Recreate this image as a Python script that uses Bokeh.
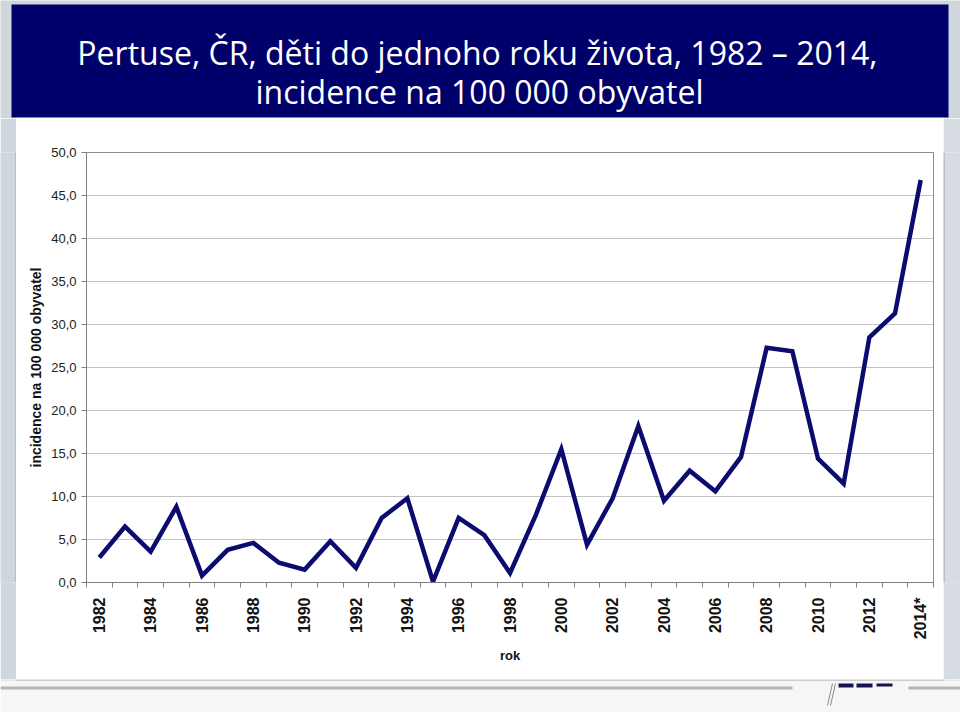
import math
from bokeh.plotting import figure
from bokeh.models import FixedTicker, ColumnDataSource, Range1d
from bokeh.layouts import column, row
from bokeh.core.properties import value
from bokeh.embed import file_html
from bokeh.resources import INLINE

# ---- data ----
years = list(range(1982, 2015))
year_labels = [str(y) for y in years[:-1]] + ["2014*"]
incidence = [2.9, 6.5, 3.6, 8.8, 0.8, 3.8, 4.6, 2.3, 1.5, 4.8,
             1.7, 7.5, 9.8, 0.1, 7.5, 5.5, 1.1, 7.8, 15.5, 4.4,
             9.8, 18.2, 9.5, 13.0, 10.6, 14.6, 27.3, 26.9, 14.4, 11.5,
             28.5, 31.3, 46.8]
y_ticks = [0, 5, 10, 15, 20, 25, 30, 35, 40, 45, 50]
title_line1 = "Pertuse, ČR, děti do jednoho roku života, 1982 – 2014,"
title_line2 = "incidence na 100 000 obyvatel"
y_title = "incidence na 100 000 obyvatel"
x_title = "rok"

SLIDE = "#cfd6dc"
NAVY = "#00006a"
BORDER = "#a4a4a4"
W = 960
BANNER_H = 118
CHART_H = 561
BOTTOM_H = 33
LEFT_W = 16
RIGHT_W = 17


def deco_fig(w, h, bg):
    f = figure(width=w, height=h, output_backend="svg", toolbar_location=None,
               x_range=Range1d(0, w), y_range=Range1d(h, 0),
               x_axis_type=None, y_axis_type=None, min_border=0)
    f.background_fill_color = bg
    f.border_fill_color = bg
    f.outline_line_color = None
    return f


# ---- banner with title ----
banner = deco_fig(W, BANNER_H, SLIDE)
banner.quad(left=[11], right=[948], top=[4], bottom=[117], fill_color=NAVY, line_color=None)
banner.quad(left=[16], right=[944], top=[117], bottom=[118], fill_color=BORDER, line_color=None)
banner.text(x=[477, 479], y=[52, 91], text=[title_line1, title_line2],
            text_align="center", text_baseline="alphabetic", text_color="white",
            text_font=value("Open Sans"), text_font_size="32px")

# ---- side strips ----
left = deco_fig(LEFT_W, CHART_H, SLIDE)
left.quad(left=[LEFT_W - 1], right=[LEFT_W], top=[0], bottom=[CHART_H], fill_color=BORDER, line_color=None)
right = deco_fig(RIGHT_W, CHART_H, "#d6dce2")
right.quad(left=[0], right=[1], top=[0], bottom=[CHART_H], fill_color=BORDER, line_color=None)

# ---- bottom strip ----
bottom = deco_fig(W, BOTTOM_H, "#f6f6f6")
bottom.quad(left=[0, 944], right=[16, W], top=[0, 0], bottom=[1, 1], fill_color=SLIDE, line_color=None)
bottom.quad(left=[16], right=[944], top=[0], bottom=[1], fill_color=BORDER, line_color=None)
bottom.quad(left=[0, 908], right=[792, W], top=[7, 7], bottom=[10, 10], fill_color="#b4b4bc", line_color=None)
bottom.quad(left=[838, 856, 876], right=[853, 872, 892], top=[4, 4, 4], bottom=[8, 8, 7],
            fill_color="#141450", line_color=None)
bottom.segment(x0=[832, 835], y0=[4, 4], x1=[827, 830], y1=[26, 26], line_color="#8a8a8a", line_width=1)

# ---- chart ----
idx = list(range(len(years)))
src = ColumnDataSource(dict(x=idx, y=incidence))
CW = W - LEFT_W - RIGHT_W
p = figure(width=CW, height=CHART_H, output_backend="svg", toolbar_location=None,
           x_range=Range1d(-0.5, len(years) - 0.5), y_range=Range1d(0, 50),
           min_border_left=70, min_border_right=10, min_border_top=34,
           min_border_bottom=97)
p.border_fill_color = "white"
p.background_fill_color = "white"
p.outline_line_color = "#8c8c8c"
p.outline_line_width = 1

p.line("x", "y", source=src, line_color="#0b0b70", line_width=4.5, line_join="miter")

p.yaxis.ticker = FixedTicker(ticks=y_ticks)
p.yaxis.major_label_overrides = {t: f"{t:.1f}".replace(".", ",") for t in y_ticks}
p.yaxis.major_label_text_font = "Liberation Sans"
p.yaxis.major_label_text_font_size = "13px"
p.yaxis.major_label_text_color = "#222222"
p.yaxis.major_tick_out = 5
p.yaxis.major_tick_in = 0
p.yaxis.minor_tick_line_color = None
p.yaxis.axis_line_color = "#808080"
p.yaxis.major_tick_line_color = "#808080"
p.yaxis.major_label_standoff = 5
p.yaxis.axis_label = y_title
p.yaxis.axis_label_text_font = "Liberation Sans"
p.yaxis.axis_label_text_font_style = "bold"
p.yaxis.axis_label_text_font_size = "14px"
p.yaxis.axis_label_text_color = "#111111"
p.yaxis.axis_label_standoff = 4

even_idx = [i for i in idx if i % 2 == 0]
bounds = [i - 0.5 for i in idx] + [len(years) - 0.5]
p.xaxis.ticker = FixedTicker(ticks=even_idx, minor_ticks=bounds)
p.xaxis.major_label_overrides = {i: year_labels[i] for i in even_idx}
p.xaxis.major_label_orientation = math.pi / 2
p.xaxis.major_label_text_font = "Liberation Sans"
p.xaxis.major_label_text_font_style = "bold"
p.xaxis.major_label_text_font_size = "16px"
p.xaxis.major_label_text_color = "#111111"
p.xaxis.major_tick_out = 0
p.xaxis.major_tick_in = 0
p.xaxis.minor_tick_out = 5
p.xaxis.minor_tick_in = 0
p.xaxis.minor_tick_line_color = "#808080"
p.xaxis.axis_line_color = "#808080"
p.xaxis.major_label_standoff = 10
p.xaxis.axis_label = x_title
p.xaxis.axis_label_text_font = "Liberation Sans"
p.xaxis.axis_label_text_font_style = "bold"
p.xaxis.axis_label_text_font_size = "13px"
p.xaxis.axis_label_text_color = "#111111"
p.xaxis.axis_label_standoff = 6

p.xgrid.grid_line_color = None
p.ygrid.grid_line_color = "#c4c4c4"
p.ygrid.grid_line_width = 1

layout = column(banner, row(left, p, right, spacing=0), bottom, spacing=0)
open("out.html", "w").write(file_html(layout, INLINE))
